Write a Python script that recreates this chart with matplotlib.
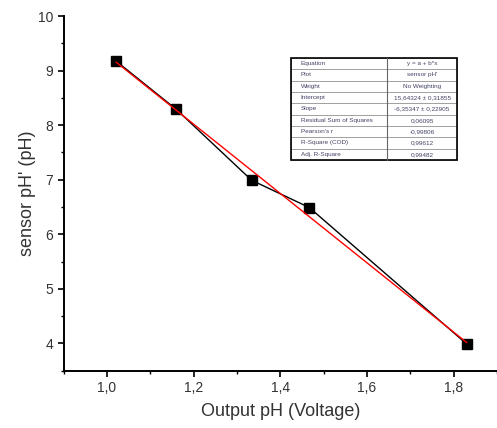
import numpy as np
import matplotlib
matplotlib.use("Agg")
import matplotlib.pyplot as plt
from matplotlib.patches import Rectangle
from matplotlib.ticker import FuncFormatter, MultipleLocator

plt.rcParams['font.family'] = ['Liberation Sans', 'DejaVu Sans']

# data
output_ph = [1.022, 1.160, 1.334, 1.467, 1.830]
sensor_ph = [9.17, 8.29, 6.99, 6.49, 3.99]

table_labels = ["Equation", "Plot", "Weight", "Intercept", "Slope",
                "Residual Sum of Squares", "Pearson's r",
                "R-Square (COD)", "Adj. R-Square"]

# linear fit (red line)
x = np.array(output_ph)
y = np.array(sensor_ph)
coef, cov = np.polyfit(x, y, 1, cov='unscaled')
slope, intercept = coef
resid = y - np.polyval(coef, x)
rss = np.sum(resid ** 2)
n = len(x)
s2 = rss / (n - 2)
se_slope, se_int = np.sqrt(np.diag(cov) * s2)
r = np.corrcoef(x, y)[0, 1]
r2 = r ** 2
adj_r2 = 1 - (1 - r2) * (n - 1) / (n - 2)


def c(v, d=5):
    return f"{v:.{d}f}".replace('.', ',')


table_values = ["y = a + b*x", "sensor pH'", "No Weighting",
                f"{c(intercept)} ± {c(se_int)}",
                f"{c(slope)} ± {c(se_slope)}",
                c(rss), c(r), c(r2), c(adj_r2)]

fig = plt.figure(figsize=(4.97, 4.28), dpi=100)
ax = fig.add_axes([63.5 / 497, (428 - 370.7) / 428, 433.5 / 497, 354.7 / 428])

ax.plot(output_ph, sensor_ph, color='black', lw=1.0, marker='s',
        markersize=6.5, markerfacecolor='black', markeredgecolor='black', zorder=3)
xf = np.array([min(output_ph), max(output_ph)])
ax.plot(xf, intercept + slope * xf, color='red', lw=1.0, zorder=4)

ax.set_xlim(0.9, 1.9)
ax.set_ylim(3.5, 10)
ax.xaxis.set_major_locator(MultipleLocator(0.2))
ax.xaxis.set_minor_locator(MultipleLocator(0.1))
ax.yaxis.set_major_locator(MultipleLocator(1))
ax.yaxis.set_minor_locator(MultipleLocator(0.5))
ax.xaxis.set_major_formatter(FuncFormatter(lambda v, p: f"{v:.1f}".replace('.', ',')))
ax.yaxis.set_major_formatter(FuncFormatter(lambda v, p: f"{v:.0f}"))

for s in ['top', 'right']:
    ax.spines[s].set_visible(False)
for s in ['left', 'bottom']:
    ax.spines[s].set_linewidth(1.4)
ax.tick_params(which='major', direction='out', length=4, width=1.2,
               labelsize=10, labelcolor='#333333')
ax.tick_params(which='minor', direction='out', length=2.2, width=1.0)

ax.set_xlabel("Output pH (Voltage)", fontsize=13, color='#333333', labelpad=6)
ax.set_ylabel("sensor pH' (pH)", fontsize=13, color='#333333', labelpad=1)

tb = [0.525, 0.594, 0.383, 0.288]
tbl = ax.table(cellText=[[a, b] for a, b in zip(table_labels, table_values)],
               colWidths=[0.578, 0.422], cellLoc='left',
               bbox=tb, zorder=5)
tbl.auto_set_font_size(False)
for (row, col), cell in tbl.get_celld().items():
    cell.set_fontsize(4.6)
    cell.set_linewidth(0.6)
    cell.set_edgecolor('#999999')
    cell.get_text().set_color('#444466')
    if col == 1:
        cell.get_text().set_horizontalalignment('center')
        cell._loc = 'center'
ax.add_patch(Rectangle((tb[0], tb[1]), tb[2], tb[3], transform=ax.transAxes,
                       fill=False, edgecolor='black', lw=1.2, zorder=6))
ax.plot([tb[0] + tb[2] * 0.578] * 2, [tb[1], tb[1] + tb[3]], transform=ax.transAxes,
        color='#666666', lw=0.8, zorder=6)

fig.savefig("out.png", dpi=100)
